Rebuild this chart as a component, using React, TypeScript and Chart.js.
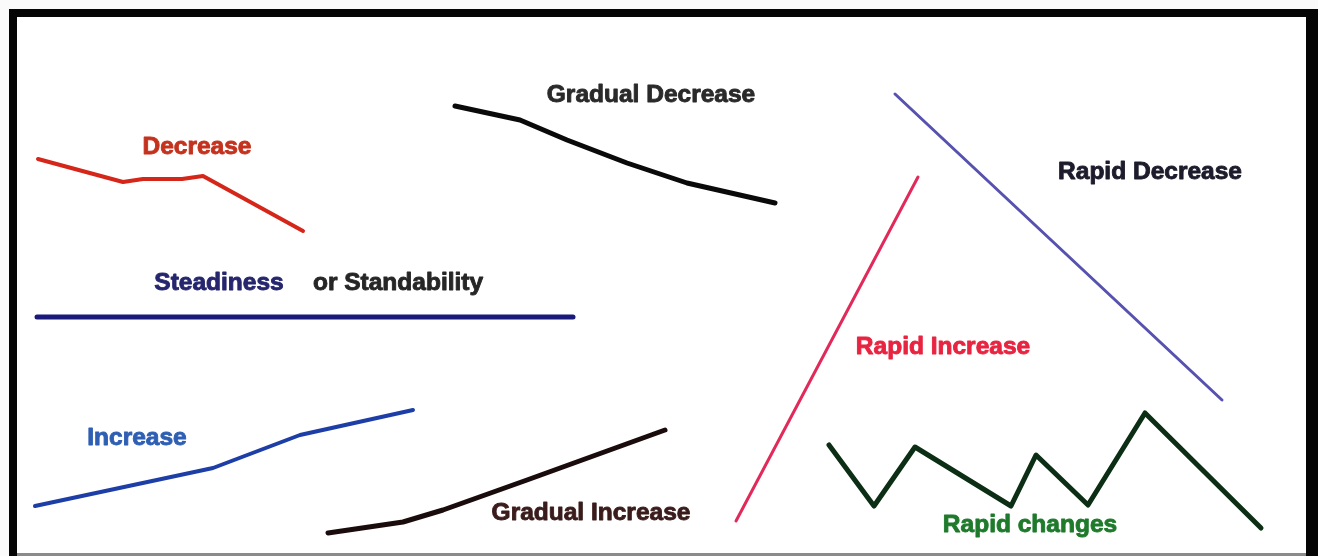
import React, { useEffect, useRef } from "react";
import { Chart, registerables } from "chart.js";

Chart.register(...registerables);

// Series (x, y in picture units; y grows downward)
const decrease = [
  { x: 38, y: 159 }, { x: 123, y: 182 }, { x: 143, y: 179 }, { x: 182, y: 179 }, { x: 203, y: 176 }, { x: 303, y: 231 },
];
const gradualDecrease = [
  { x: 455, y: 106 }, { x: 520, y: 120 }, { x: 567, y: 140 }, { x: 627, y: 163 }, { x: 687, y: 183 }, { x: 775, y: 203 },
];
const steadiness = [
  { x: 37, y: 317 }, { x: 573, y: 317 },
];
const increase = [
  { x: 35, y: 506 }, { x: 213, y: 468 }, { x: 300, y: 435 }, { x: 413, y: 410 },
];
const gradualIncrease = [
  { x: 328, y: 533 }, { x: 403, y: 522 }, { x: 443, y: 510 }, { x: 527, y: 480 }, { x: 665, y: 430 },
];
const rapidIncrease = [
  { x: 736, y: 521 }, { x: 918, y: 177 },
];
const rapidDecrease = [
  { x: 895, y: 94 }, { x: 1222, y: 400 },
];
const rapidChanges = [
  { x: 829, y: 445 }, { x: 874, y: 506 }, { x: 915, y: 447 }, { x: 1011, y: 506 },
  { x: 1036, y: 455 }, { x: 1088, y: 505 }, { x: 1145, y: 413 }, { x: 1261, y: 528 },
];

// Text labels
const labelTexts = [
  "Decrease", "Gradual Decrease", "Steadiness", "or Standability", "Increase",
  "Gradual Increase", "Rapid Increase", "Rapid Decrease", "Rapid changes",
];
const labelX = [197, 651, 219, 398, 137, 591, 943, 1150, 1030];
const labelY = [147, 95, 283, 283, 438, 513, 347, 172, 525];
const labelColors = [
  "#c4321e", "#2a2a2a", "#26266e", "#262626", "#2f5fb3",
  "#3a1c1c", "#e82440", "#1c1c2c", "#1f7a2c",
];

const W = 1318;
const H = 556;

export default function App() {
  const ref = useRef<HTMLCanvasElement | null>(null);

  useEffect(() => {
    if (!ref.current) return;
    const mk = (data: any[], color: string, width: number) => ({
      data,
      borderColor: color,
      backgroundColor: color,
      borderWidth: width,
      borderCapStyle: "round",
      borderJoinStyle: "round",
      pointRadius: 0,
      pointHoverRadius: 0,
      tension: 0,
      fill: false,
    });

    const framePlugin = {
      id: "frame",
      beforeDraw(chart: any) {
        const ctx = chart.ctx;
        ctx.save();
        ctx.fillStyle = "#fafafa";
        ctx.fillRect(0, 0, W, H);
        ctx.fillStyle = "#050505";
        ctx.fillRect(9, 9, W - 9, H - 9);
        ctx.fillStyle = "#ffffff";
        ctx.fillRect(17, 17, 1306 - 17, 553 - 17);
        ctx.fillStyle = "#8a8a8a";
        ctx.fillRect(17, 553, 1306 - 17, 3);
        ctx.restore();
      },
    };

    const labelPlugin = {
      id: "labels",
      afterDatasetsDraw(chart: any) {
        const ctx = chart.ctx;
        const xs = chart.scales.x;
        const ys = chart.scales.y;
        ctx.save();
        ctx.font = "bold 24.5px 'Liberation Sans', Arial, sans-serif";
        ctx.textAlign = "center";
        ctx.textBaseline = "middle";
        ctx.lineWidth = 0.9;
        ctx.lineJoin = "round";
        labelTexts.forEach((t, i) => {
          const px = xs.getPixelForValue(labelX[i]);
          const py = ys.getPixelForValue(labelY[i]);
          ctx.fillStyle = labelColors[i];
          ctx.strokeStyle = labelColors[i];
          ctx.fillText(t, px, py);
          ctx.strokeText(t, px, py);
        });
        ctx.restore();
      },
    };

    const chart = new Chart(ref.current, {
      type: "line",
      data: {
        datasets: [
          mk(decrease, "#d5261a", 4),
          mk(gradualDecrease, "#0a0a0a", 5),
          mk(steadiness, "#1a1a7a", 5),
          mk(increase, "#1c3ea6", 4),
          mk(gradualIncrease, "#1a0c0c", 5),
          mk(rapidIncrease, "#e22a5a", 3),
          mk(rapidDecrease, "#5752b0", 3),
          mk(rapidChanges, "#0b2e14", 5),
        ] as any,
      },
      options: {
        animation: false,
        responsive: false,
        maintainAspectRatio: false,
        layout: { padding: 0 },
        events: [],
        plugins: { legend: { display: false }, tooltip: { enabled: false }, title: { display: false } },
        scales: {
          x: { type: "linear", min: 0, max: W, display: false },
          y: { type: "linear", min: 0, max: H, reverse: true, display: false },
        },
      },
      plugins: [framePlugin, labelPlugin],
    } as any);
    return () => chart.destroy();
  }, []);

  return (
    <div style={{ position: "absolute", left: 0, top: 0, width: W, height: H }}>
      <canvas ref={ref} width={W} height={H} style={{ display: "block", width: W, height: H }} />
    </div>
  );
}
